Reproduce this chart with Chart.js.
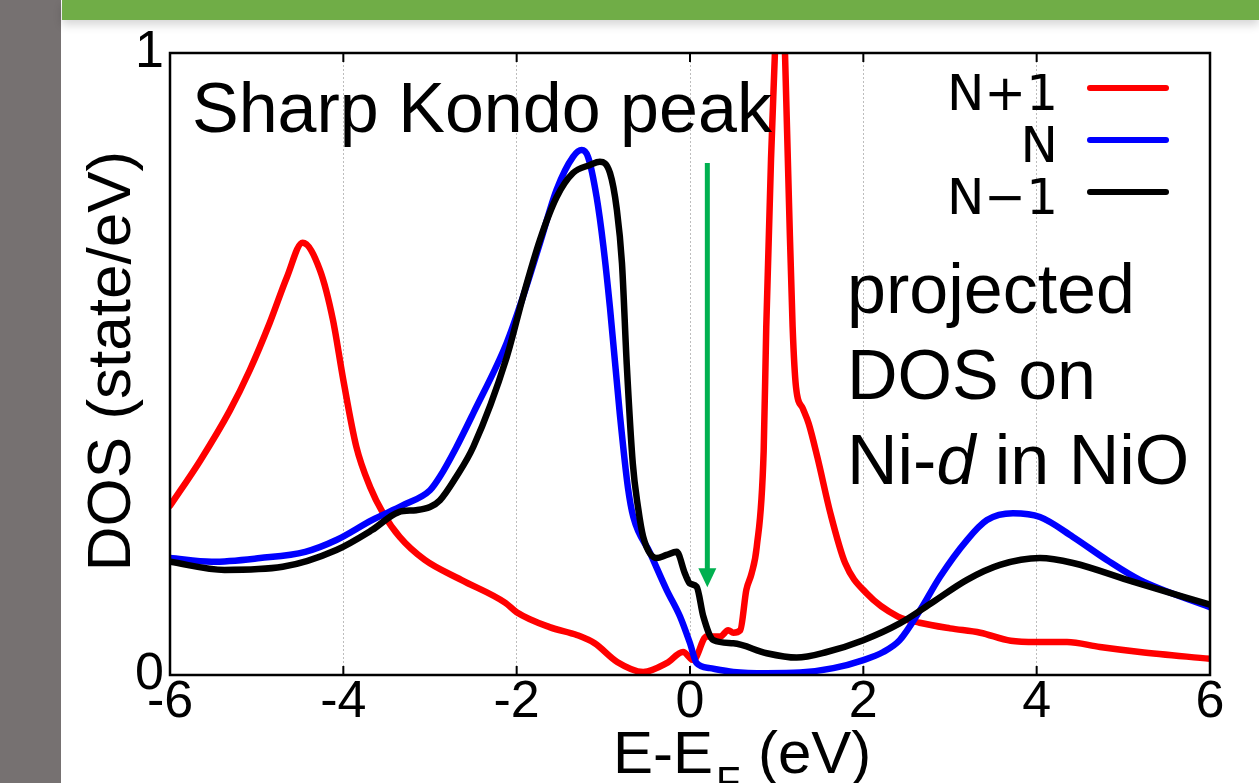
<!DOCTYPE html>
<html>
<head>
<meta charset="utf-8">
<script src="https://cdn.jsdelivr.net/npm/chart.js@4"></script>
<style>
  html, body { margin: 0; padding: 0; background: #fff; overflow: hidden; }
  #side { position: absolute; left: 0; top: 0; width: 61px; height: 783px; background: #767171; }
  #band { position: absolute; left: 62px; top: 0; width: 1197px; height: 20px; background: #70ad47; box-shadow: 0 5px 10px rgba(0, 0, 0, 0.16); }
  #chart { position: absolute; left: 0; top: 0; }
</style>
</head>
<body>
<div id="side"></div>
<div id="band"></div>
<canvas id="chart" width="1259" height="783"></canvas>
<script>
// ticks
const xTickValues = [-6, -4, -2, 0, 2, 4, 6];
const xTickLabels = ["-6", "-4", "-2", "0", "2", "4", "6"];
const yTickValues = [0, 1];
const yTickLabels = ["0", "1"];

// series
const seriesNames = ["N+1", "N", "N\u22121"];
const seriesColors = ["#ff0000", "#0000ff", "#000000"];

// N+1 (red)
const energyNp1 = [-6.0, -5.65, -5.31, -5.08, -4.85, -4.65, -4.47, -4.27, -4.12, -4.0, -3.85, -3.69, -3.54, -3.35,
  -3.06, -2.64, -2.13, -2.0, -1.62, -1.30, -1.10, -0.84, -0.54, -0.27, -0.08, 0.04, 0.19, 0.35, 0.44, 0.50,
  0.58, 0.65, 0.71, 0.77, 0.85, 0.88, 0.935, 0.98, 1.04, 1.096, 1.142, 1.184, 1.223, 1.30, 1.37, 1.47, 1.62,
  1.79, 2.04, 2.40, 2.65, 3.0, 3.35, 3.7, 4.0, 4.35, 4.73, 5.19, 6.0];
const dosNp1 = [0.272, 0.345, 0.425, 0.49, 0.566, 0.64, 0.695, 0.651, 0.571, 0.474, 0.367, 0.302, 0.26, 0.222,
  0.185, 0.153, 0.116, 0.101, 0.077, 0.064, 0.051, 0.021, 0.005, 0.019, 0.037, 0.024, 0.062, 0.062, 0.072, 0.068,
  0.072, 0.137, 0.163, 0.206, 0.36, 0.56, 0.83, 1.0, 1.25, 1.0, 0.76, 0.56, 0.463, 0.429, 0.404, 0.35, 0.26,
  0.18, 0.131, 0.094, 0.084, 0.075, 0.068, 0.055, 0.053, 0.053, 0.045, 0.037, 0.026];

// N (blue)
const energyN = [-6.0, -5.52, -4.96, -4.44, -4.08, -3.67, -3.31, -3.0, -2.885, -2.7, -2.50, -2.115, -1.927, -1.73, -1.54,
  -1.35, -1.25, -1.177, -1.077, -1.0, -0.923, -0.81, -0.715, -0.654, -0.46, -0.27, -0.115, 0.0, 0.077, 0.23, 0.5,
  0.885, 1.27, 1.654, 2.0, 2.23, 2.42, 2.654, 2.885, 3.196, 3.427, 3.727, 4.038, 4.419, 4.81, 5.19, 6.0];
const dosN = [0.188, 0.182, 0.188, 0.198, 0.217, 0.249, 0.273, 0.297, 0.319, 0.365, 0.421, 0.534, 0.608, 0.695, 0.78,
  0.833, 0.844, 0.833, 0.768, 0.69, 0.59, 0.42, 0.30, 0.254, 0.196, 0.137, 0.094, 0.051, 0.019, 0.011, 0.005,
  0.003, 0.004, 0.011, 0.024, 0.037, 0.056, 0.104, 0.158, 0.217, 0.249, 0.260, 0.254, 0.222, 0.185, 0.153, 0.109];

// N-1 (black)
const energyNm1 = [-6.0, -5.37, -4.70, -4.08, -3.67, -3.36, -3.16, -3.0, -2.885, -2.7, -2.50, -2.115, -1.927, -1.73, -1.54,
  -1.35, -1.154, -1.04, -0.923, -0.846, -0.785, -0.73, -0.66, -0.60, -0.54, -0.385, -0.27, -0.154, -0.058, 0.0,
  0.077, 0.154, 0.27, 0.5, 0.885, 1.23, 1.577, 2.0, 2.42, 2.80, 3.196, 3.577, 4.038, 4.419, 5.11, 6.0];
const dosNm1 = [0.182, 0.169, 0.174, 0.201, 0.233, 0.262, 0.265, 0.270, 0.281, 0.318, 0.367, 0.511, 0.608, 0.70, 0.768,
  0.807, 0.82, 0.825, 0.807, 0.75, 0.662, 0.50, 0.34, 0.27, 0.222, 0.188, 0.193, 0.198, 0.163, 0.147,
  0.142, 0.094, 0.056, 0.051, 0.035, 0.028, 0.037, 0.056, 0.083, 0.117, 0.153, 0.177, 0.188, 0.180, 0.150, 0.113];

// arrow marking the Kondo peak (data coords)
const arrowE = 0.2;
const arrowFrom = 0.823;
const arrowTo = 0.141;

const toPoints = (xs, ys) => xs.map((x, i) => ({ x: x, y: ys[i] }));

const SANS = "'Liberation Sans', Arial, sans-serif";

const overlay = {
  id: "overlay",
  afterDraw(chart) {
    const { ctx, chartArea: a, scales } = chart;
    const x = scales.x, y = scales.y;
    ctx.save();

    // frame + inward ticks
    ctx.strokeStyle = "#000";
    ctx.lineWidth = 2.5;
    ctx.strokeRect(a.left, a.top, a.right - a.left, a.bottom - a.top);
    ctx.lineWidth = 2;
    xTickValues.forEach((v) => {
      const px = x.getPixelForValue(v);
      ctx.beginPath();
      ctx.moveTo(px, a.bottom); ctx.lineTo(px, a.bottom - 9);
      ctx.moveTo(px, a.top); ctx.lineTo(px, a.top + 9);
      ctx.stroke();
    });

    // green arrow
    const ax = x.getPixelForValue(arrowE);
    const ay0 = y.getPixelForValue(arrowFrom);
    const ay1 = y.getPixelForValue(arrowTo);
    ctx.strokeStyle = "#00b050";
    ctx.fillStyle = "#00b050";
    ctx.lineWidth = 5;
    ctx.beginPath();
    ctx.moveTo(ax, ay0); ctx.lineTo(ax, ay1 - 16);
    ctx.stroke();
    ctx.beginPath();
    ctx.moveTo(ax - 9, ay1 - 19); ctx.lineTo(ax + 9, ay1 - 19); ctx.lineTo(ax, ay1);
    ctx.closePath();
    ctx.fill();

    // annotations
    ctx.fillStyle = "#000";
    ctx.textAlign = "left";
    ctx.textBaseline = "alphabetic";
    ctx.font = "70px " + SANS;
    ctx.fillText("Sharp Kondo peak", 192, 132);
    ctx.fillText("projected", 847, 313);
    ctx.fillText("DOS on", 847, 399);
    let tx = 847;
    ctx.fillText("Ni-", tx, 484);
    tx += ctx.measureText("Ni-").width;
    ctx.font = "italic 70px " + SANS;
    ctx.fillText("d", tx, 484);
    tx += ctx.measureText("d").width;
    ctx.font = "70px " + SANS;
    ctx.fillText(" in NiO", tx, 484);

    // legend
    ctx.font = "50px 'DejaVu Sans', sans-serif";
    ctx.textAlign = "right";
    ctx.lineCap = "round";
    ctx.lineWidth = 6;
    seriesNames.forEach((name, i) => {
      const base = 110 + i * 52;
      ctx.fillStyle = "#000";
      ctx.fillText(name, 1058, base);
      ctx.strokeStyle = seriesColors[i];
      ctx.beginPath();
      ctx.moveTo(1090, base - 22); ctx.lineTo(1166, base - 22);
      ctx.stroke();
    });

    // axis titles
    ctx.textAlign = "left";
    ctx.fillStyle = "#000";
    ctx.font = "60px " + SANS;
    ctx.fillText("E-E", 613, 773);
    tx = 613 + ctx.measureText("E-E").width + 3;
    ctx.font = "40px " + SANS;
    ctx.fillText("F", tx, 795);
    ctx.font = "60px " + SANS;
    ctx.fillText("(eV)", 758, 773);

    ctx.translate(130, 361);
    ctx.rotate(-Math.PI / 2);
    ctx.textAlign = "center";
    ctx.font = "62px " + SANS;
    ctx.fillText("DOS (state/eV)", 0, 0);

    ctx.restore();
  }
};

const ctx = document.getElementById("chart").getContext("2d");

const lineStyle = { borderWidth: 6.5, pointRadius: 0, fill: false, cubicInterpolationMode: "monotone", borderCapStyle: "round", borderJoinStyle: "round" };

new Chart(ctx, {
  type: "line",
  data: {
    datasets: [
      { label: seriesNames[0], data: toPoints(energyNp1, dosNp1), borderColor: seriesColors[0], order: 3, ...lineStyle },
      { label: seriesNames[1], data: toPoints(energyN, dosN), borderColor: seriesColors[1], order: 2, ...lineStyle },
      { label: seriesNames[2], data: toPoints(energyNm1, dosNm1), borderColor: seriesColors[2], order: 1, ...lineStyle },
    ],
  },
  options: {
    responsive: false,
    animation: false,
    devicePixelRatio: 1,
    layout: { padding: { left: 0, top: 53, right: 49, bottom: 0 } },
    plugins: {
      legend: { display: false },
      tooltip: { enabled: false },
    },
    scales: {
      x: {
        type: "linear",
        min: -6,
        max: 6,
        afterBuildTicks: (s) => { s.ticks = xTickValues.map((v) => ({ value: v })); },
        afterFit: (s) => { s.height = 108; s.paddingLeft = 0; s.paddingRight = 0; },
        ticks: {
          autoSkip: false,
          maxRotation: 0,
          padding: -4,
          color: "#000",
          font: { family: SANS, size: 52 },
          callback: (v) => xTickLabels[xTickValues.indexOf(v)],
        },
        grid: {
          drawTicks: false,
          lineWidth: 1,
          color: (c) => (c.tick && Math.abs(c.tick.value) < 6 ? "#bdbdbd" : "rgba(0,0,0,0)"),
        },
        border: { display: false, dash: [2, 2] },
      },
      y: {
        min: 0,
        max: 1,
        afterBuildTicks: (s) => { s.ticks = yTickValues.map((v) => ({ value: v })); },
        afterFit: (s) => { s.width = 170; s.paddingTop = 0; s.paddingBottom = 0; },
        ticks: {
          padding: 6,
          color: "#000",
          font: { family: SANS, size: 52 },
          callback: (v) => yTickLabels[yTickValues.indexOf(v)],
        },
        grid: { display: false, drawTicks: false },
        border: { display: false },
      },
    },
  },
  plugins: [overlay],
});
</script>
</body>
</html>
